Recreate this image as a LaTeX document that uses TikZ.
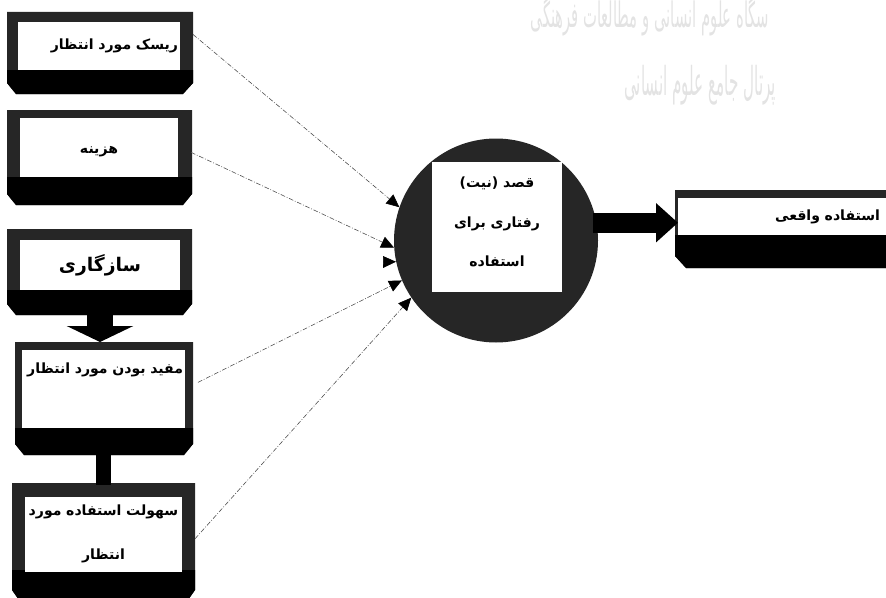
\documentclass[tikz,border=0pt]{standalone}
\usepackage{fontspec}
\newfontfamily\arabicfont[Script=Arabic]{DejaVu Sans}
\TeXXeTstate=1
\usetikzlibrary{arrows.meta}
\newcommand{\fatext}[1]{\beginR #1\endR}

\begin{document}
\begin{tikzpicture}[x=0.3mm,y=-0.3mm,
  boxframe/.style={fill=black!85},
  boxband/.style={fill=black},
  whitebox/.style={fill=white,inner xsep=0.6mm,inner ysep=0pt,outer xsep=3.9mm,outer ysep=0pt,
    font=\arabicfont\bfseries\fontsize{12}{14}\selectfont},
  dashlink/.style={black!70,line width=0.5pt,dash pattern=on 4pt off 1.5pt on 0.7pt off 1.5pt,
    -{Triangle[length=11pt,width=10pt,color=black]}},
  watermark/.style={black!11,inner sep=0pt,transform shape}]
\path[use as bounding box] (0,0) rectangle (886,597);
\clip (0,0) rectangle (886,597);
% watermark
\node[watermark,xscale=0.42,font=\arabicfont\fontsize{30}{32}\selectfont] (wmtop) at (650,16)
  {\fatext{سگاه علوم انسانی و مطالعات فرهنگی}};
\node[watermark,xscale=0.38,font=\arabicfont\fontsize{34}{36}\selectfont] (wmbottom) at (700,85)
  {\fatext{پرتال جامع علوم انسانی}};
% frames of the left boxes
\fill[boxframe] (7,12) -- (193,12) -- (193,83) -- (183,94) -- (16,94) -- (7,83) -- cycle;
\fill[boxband] (7,70) -- (193,70) -- (193,83) -- (183,94) -- (16,94) -- (7,83) -- cycle;
\fill[boxframe] (7,110) -- (192,110) -- (192,194) -- (183,205) -- (16,205) -- (7,194) -- cycle;
\fill[boxband] (7,177) -- (192,177) -- (192,194) -- (183,205) -- (16,205) -- (7,194) -- cycle;
\fill[boxframe] (7,229) -- (192,229) -- (192,304) -- (183,315) -- (16,315) -- (7,304) -- cycle;
\fill[boxband] (7,290) -- (192,290) -- (192,304) -- (183,315) -- (16,315) -- (7,304) -- cycle;
\fill[boxframe] (15,342) -- (193,342) -- (193,444) -- (184,455) -- (24,455) -- (15,444) -- cycle;
\fill[boxband] (15,428) -- (193,428) -- (193,444) -- (184,455) -- (24,455) -- (15,444) -- cycle;
\fill[boxframe] (12,483) -- (195,483) -- (195,590) -- (188,600) -- (19,600) -- (12,590) -- cycle;
\fill[boxband] (12,570) -- (195,570) -- (195,590) -- (188,600) -- (19,600) -- (12,590) -- cycle;
% frame of the right box
\fill[boxframe] (675,190) -- (890,190) -- (890,268) -- (686,268) -- (675,256) -- cycle;
\fill[boxband] (675,235) -- (890,235) -- (890,268) -- (686,268) -- (675,256) -- cycle;
% boxes
\node[whitebox,text width=47.4mm,minimum height=14.4mm,align=right] (risk) at (99,46)
  {\fatext{ریسک مورد انتظار}};
\node[whitebox,text width=46.2mm,text height=10.5mm,text depth=7.2mm,align=center] (cost) at (99,147.5)
  {\fatext{هزینه}};
\node[whitebox,text width=46.8mm,minimum height=15mm,align=center,
  font=\arabicfont\bfseries\fontsize{16}{18}\selectfont] (compat) at (100,265)
  {\fatext{سازگاری}};
\node[whitebox,text width=47.7mm,text height=7mm,text depth=16.4mm,align=right] (useful) at (103.5,389)
  {\fatext{مفید بودن مورد انتظار}};
\node[whitebox,text width=45.9mm,minimum height=22.5mm,align=center,
  font=\arabicfont\bfseries\fontsize{12}{38}\selectfont] (ease) at (103.5,534)
  {\fatext{سهولت استفاده مورد}\\ \fatext{انتظار}};
\node[circle,fill=black!85,minimum size=61.2mm,inner sep=0pt] (intent) at (496,240.5) {};
\node[fill=white,minimum width=39mm,minimum height=39mm] (intentbox) at (497,227) {};
\node[align=center,inner sep=0pt,
  font=\arabicfont\bfseries\fontsize{12}{34}\selectfont] (intenttext) at (497,222)
  {\fatext{قصد (نیت)}\\ \fatext{رفتاری برای}\\ \fatext{استفاده}};
\node[whitebox,outer xsep=0pt,inner xsep=3mm,text width=57.6mm,minimum height=11.1mm,align=right] (actual) at (784,216.5)
  {\fatext{استفاده واقعی}};
% connectors
\draw[line width=8mm,-{Triangle[length=4.8mm,width=19.8mm]},shorten <=7.5mm,shorten >=2.4mm]
  (compat.south) -- (compat.south |- useful.north);
\draw[line width=4.5mm,shorten <=8.1mm,shorten >=3.6mm] (useful.south) -- (useful.south |- ease.north);
\draw[line width=6mm,-{Triangle[length=6.6mm,width=11.4mm]},shorten <=-1mm]
  (intent.10) -- (intent.10 -| actual.west);
\draw[dashlink] (risk.7) -- (intent.161);
\draw[dashlink] (cost.-3) -- (intent.184);
\draw[dashlink,shorten <=57.3mm] (compat.east) -- (intent.192);
\draw[dashlink] (useful.4) -- (intent.203);
\draw[dashlink] (ease.-3) -- (intent.214);
\end{tikzpicture}
\end{document}
